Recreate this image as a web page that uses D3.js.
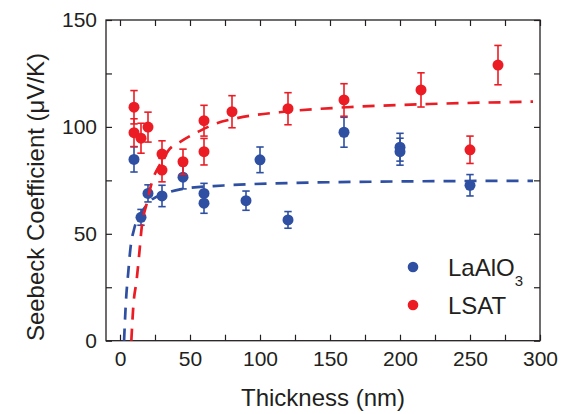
<!DOCTYPE html>
<html>
<head>
<meta charset="utf-8">
<script src="https://cdn.jsdelivr.net/npm/d3@7"></script>
<style>
  body { margin: 0; background: #fff; }
  text { font-family: 'Liberation Sans', Arial, sans-serif; fill: #231f20; }
</style>
</head>
<body>
<div id="chart"></div>
<script>
// LaAlO3 substrate
const laThickness = [10, 15, 20, 30, 45, 60, 60, 90, 100, 120, 160, 200, 200, 250]
const laSeebeck = [84.8, 57.7, 68.9, 67.7, 76.5, 68.9, 64.3, 65.5, 84.6, 56.5, 97.5, 90.5, 88.4, 72.7]
const laError = [5.9, 3.7, 4, 5, 5.5, 4.7, 4.7, 4.5, 6, 3.9, 7, 6.5, 6.3, 5]
// LSAT substrate
const lsatThickness = [10, 10, 15, 20, 30, 30, 45, 60, 60, 80, 120, 160, 215, 250, 270]
const lsatSeebeck = [109.2, 97.3, 94.7, 99.9, 87.3, 79.8, 83.7, 102.9, 88.4, 107.1, 108.5, 112.6, 117.3, 89.3, 128.9]
const lsatError = [7.8, 6.5, 7, 7, 6.2, 5.5, 5.9, 7.2, 6.2, 7.5, 7.5, 7.6, 8, 6.4, 9.2]
// dashed fit curves
const laFitX = [2.9, 4.3, 5.9, 7.6, 10, 15.5, 21, 33, 43, 74, 119, 186, 295]
const laFitY = [0, 19, 32, 44, 52, 60, 65, 69, 70.8, 72.6, 73.7, 74.4, 74.8]
const lsatFitX = [8.1, 9.5, 11.9, 13.8, 15.5, 19, 22.6, 30, 34.5, 43, 56, 69, 83, 119, 162, 221, 295]
const lsatFitY = [0, 16, 28.5, 41, 53, 64, 73.7, 84, 88.9, 93, 97.8, 101.7, 104, 107.2, 109.2, 110.7, 111.8]

const xMajor = [0, 50, 100, 150, 200, 250, 300]
const xMinor = [25, 75, 125, 175, 225, 275]
const yMajor = [0, 50, 100, 150]
const yMinor = [25, 75, 125]
const legendNames = ['LaAlO', 'LSAT']

let width = 562
let height = 414
let plotLeft = 106
let plotRight = 540
let plotTop = 20
let plotBottom = 340.7
let blue = '#2e4fa2'
let red = '#ec1c24'
let ink = '#231f20'

let svg = d3
  .select('#chart')
  .append('svg')
  .attr('width', width)
  .attr('height', height)

let x = d3.scaleLinear().domain([-10, 300]).range([plotLeft, plotRight])
let y = d3.scaleLinear().domain([0, 150]).range([plotBottom, plotTop])

function styleAxis (g, labels) {
  g.select('.domain').remove()
  g.selectAll('line').attr('stroke', ink).attr('stroke-width', 1.2)
  g.selectAll('text')
    .style('font-size', '21px')
    .attr('fill', ink)
  if (!labels) g.selectAll('text').remove()
}

// bottom axis
svg.append('g')
  .attr('transform', 'translate(0,' + plotBottom + ')')
  .call(d3.axisBottom(x).tickValues(xMajor).tickSize(-6).tickPadding(10))
  .call(g => styleAxis(g, true))
svg.append('g')
  .attr('transform', 'translate(0,' + plotBottom + ')')
  .call(d3.axisBottom(x).tickValues(xMinor).tickSize(-6))
  .call(g => styleAxis(g, false))
// top axis
svg.append('g')
  .attr('transform', 'translate(0,' + plotTop + ')')
  .call(d3.axisTop(x).tickValues(xMajor.concat(xMinor)).tickSize(-6))
  .call(g => styleAxis(g, false))
// left axis
svg.append('g')
  .attr('transform', 'translate(' + plotLeft + ',0)')
  .call(d3.axisLeft(y).tickValues(yMajor).tickSize(-6).tickPadding(9))
  .call(g => styleAxis(g, true))
svg.append('g')
  .attr('transform', 'translate(' + plotLeft + ',0)')
  .call(d3.axisLeft(y).tickValues(yMinor).tickSize(-6))
  .call(g => styleAxis(g, false))
// right axis
svg.append('g')
  .attr('transform', 'translate(' + plotRight + ',0)')
  .call(d3.axisRight(y).tickValues(yMajor.concat(yMinor)).tickSize(-6))
  .call(g => styleAxis(g, false))

// frame
svg.append('rect')
  .attr('x', plotLeft)
  .attr('y', plotTop)
  .attr('width', plotRight - plotLeft)
  .attr('height', plotBottom - plotTop)
  .attr('fill', 'none')
  .attr('stroke', ink)
  .attr('stroke-width', 1.3)

// axis titles
svg.append('text')
  .attr('x', (plotLeft + plotRight) / 2)
  .attr('y', 406)
  .attr('text-anchor', 'middle')
  .style('font-size', '24px')
  .text('Thickness (nm)')

svg.append('text')
  .attr('transform', 'translate(43.5,197)rotate(-90)')
  .attr('text-anchor', 'middle')
  .style('font-size', '24px')
  .text('Seebeck Coefficient (μV/K)')

let series = [
  { xs: laThickness, ys: laSeebeck, es: laError, color: blue },
  { xs: lsatThickness, ys: lsatSeebeck, es: lsatError, color: red }
]

series.forEach(function (s) {
  let pts = s.xs.map(function (t, i) {
    return { t: t, v: s.ys[i], e: s.es[i] }
  })
  let g = svg.append('g')
  let bars = g.selectAll('g.err').data(pts).enter().append('g')
  bars.append('line')
    .attr('x1', d => x(d.t))
    .attr('x2', d => x(d.t))
    .attr('y1', d => y(d.v - d.e))
    .attr('y2', d => y(d.v + d.e))
  bars.append('line')
    .attr('x1', d => x(d.t) - 3.7)
    .attr('x2', d => x(d.t) + 3.7)
    .attr('y1', d => y(d.v + d.e))
    .attr('y2', d => y(d.v + d.e))
  bars.append('line')
    .attr('x1', d => x(d.t) - 3.7)
    .attr('x2', d => x(d.t) + 3.7)
    .attr('y1', d => y(d.v - d.e))
    .attr('y2', d => y(d.v - d.e))
  bars.selectAll('line')
    .attr('stroke', s.color)
    .attr('stroke-width', 1.6)
  g.selectAll('circle')
    .data(pts)
    .enter()
    .append('circle')
    .attr('cx', d => x(d.t))
    .attr('cy', d => y(d.v))
    .attr('r', 5.5)
    .attr('fill', s.color)
})

let fitLine = d3.line()
  .x(d => x(d[0]))
  .y(d => y(d[1]))
  .curve(d3.curveMonotoneX)

let fits = [
  { xs: laFitX, ys: laFitY, color: blue },
  { xs: lsatFitX, ys: lsatFitY, color: red }
]
fits.forEach(function (f) {
  svg.append('path')
    .datum(f.xs.map((t, i) => [t, f.ys[i]]))
    .attr('d', fitLine)
    .attr('fill', 'none')
    .attr('stroke', f.color)
    .attr('stroke-width', 2.7)
    .attr('stroke-dasharray', '12,9')
})

// legend
let legend = svg.append('g')
legendNames.forEach(function (name, i) {
  let ly = 267 + i * 38
  legend.append('circle')
    .attr('cx', 413)
    .attr('cy', ly)
    .attr('r', 5.3)
    .attr('fill', i === 0 ? blue : red)
  let t = legend.append('text')
    .attr('x', 448)
    .attr('y', ly + 9)
    .style('font-size', '24px')
    .text(name)
  if (i === 0) {
    t.append('tspan')
      .attr('dy', 9.5)
      .style('font-size', '15px')
      .text('3')
  }
})
</script>
</body>
</html>
